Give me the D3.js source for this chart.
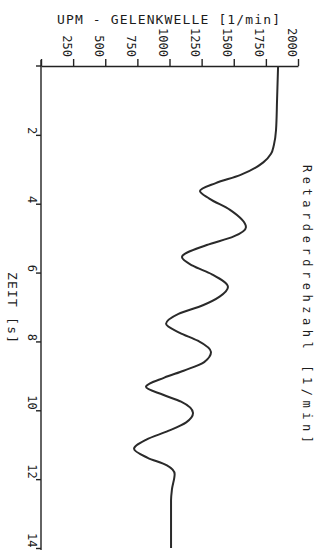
<!DOCTYPE html>
<html>
<head>
<meta charset="utf-8">
<script src="https://cdn.jsdelivr.net/npm/d3@7"></script>
<style>
  html, body { margin: 0; padding: 0; background: #fff; }
  svg { display: block; }
  text { font-family: "DejaVu Sans Mono", "Liberation Mono", monospace; fill: #1c1c1c; }
</style>
</head>
<body>
<svg id="chart" width="325" height="551"></svg>
<script>
// ---- data (time in s, speed in 1/min) ----
const timeValues = [0, 0.99, 1.86, 2.30, 2.55, 2.80, 3.17, 3.40, 3.63, 3.85, 4.18, 4.68, 4.95, 5.20, 5.55, 5.80, 6.05, 6.42, 6.70, 6.95, 7.20, 7.49, 7.75, 7.98, 8.31, 8.60, 8.85, 9.05, 9.32, 9.55, 9.75, 10.08, 10.35, 10.60, 10.85, 11.12, 11.38, 11.60, 11.85, 12.30, 12.61, 14.0];
const speedValues = [1845, 1837, 1829, 1812, 1790, 1730, 1549, 1360, 1237, 1310, 1471, 1595, 1500, 1290, 1097, 1180, 1330, 1455, 1390, 1260, 1070, 973, 1080, 1220, 1323, 1270, 1110, 960, 817, 950, 1090, 1183, 1130, 990, 820, 724, 830, 980, 1040, 1019, 1012, 1012];
const speedTicks = [0, 250, 500, 750, 1000, 1250, 1500, 1750, 2000];
const timeTicks = [2, 4, 6, 8, 10, 12, 14];
const titleText = "UPM - GELENKWELLE [1/min]";
const timeLabel = "ZEIT [s]";
const seriesLabel = "Retarderdrehzahl [1/min]";

const svg = d3.select("#chart");
const ink = "#222";

// rotated chart: speed runs left->right along the top, time runs top->bottom
const x = d3.scaleLinear().domain([0, 2000]).range([41, 298]);
const y = d3.scaleLinear().domain([0, 14]).range([66, 548]);

// top (speed) axis
const gTop = svg.append("g").attr("transform", "translate(0,66)")
  .call(d3.axisTop(x).tickValues(speedTicks).tickSize(7).tickSizeOuter(0)
        .tickFormat(d => d === 0 ? "" : String(d)));
gTop.selectAll("path, line").attr("stroke", ink).attr("stroke-width", 1.4);
gTop.selectAll("text")
  .attr("x", null).attr("y", null).attr("dy", null)
  .attr("text-anchor", "end")
  .attr("font-size", 12)
  .attr("transform", "translate(-11,-9) rotate(90)");
svg.append("line").attr("x1", 36).attr("x2", x(0)).attr("y1", 66).attr("y2", 66)
  .attr("stroke", ink).attr("stroke-width", 1.4);

// left (time) axis
const gLeft = svg.append("g").attr("transform", `translate(${x(0)},0)`)
  .call(d3.axisLeft(y).tickValues(timeTicks).tickSize(5).tickSizeOuter(0));
gLeft.select("path.domain").attr("d", `M0,${y(0) - 6}V550`);
gLeft.selectAll("path, line").attr("stroke", ink).attr("stroke-width", 1.4);
gLeft.selectAll("text")
  .attr("x", null).attr("y", null).attr("dy", null)
  .attr("text-anchor", "end")
  .attr("font-size", 12)
  .attr("transform", "translate(-13,-1) rotate(90)");

// series line
const pts = timeValues.map((t, i) => ({ t, v: speedValues[i] }));
svg.append("path").datum(pts)
  .attr("fill", "none").attr("stroke", "#2a2a2a").attr("stroke-width", 2)
  .attr("stroke-linejoin", "round")
  .attr("d", d3.line().x(d => x(d.v)).y(d => y(d.t)).curve(d3.curveMonotoneY));

// title (horizontal)
svg.append("text").attr("x", 57).attr("y", 24)
  .attr("font-size", 13).attr("textLength", 223).attr("lengthAdjust", "spacing")
  .text(titleText);

// time axis label (rotated)
svg.append("text").attr("transform", "translate(8,272) rotate(90)")
  .attr("font-size", 13).attr("textLength", 71).attr("lengthAdjust", "spacing")
  .text(timeLabel);

// series label (rotated, spaced)
svg.append("text").attr("transform", "translate(303,165) rotate(90)")
  .attr("font-size", 12).attr("textLength", 278).attr("lengthAdjust", "spacing")
  .text(seriesLabel);
</script>
</body>
</html>
